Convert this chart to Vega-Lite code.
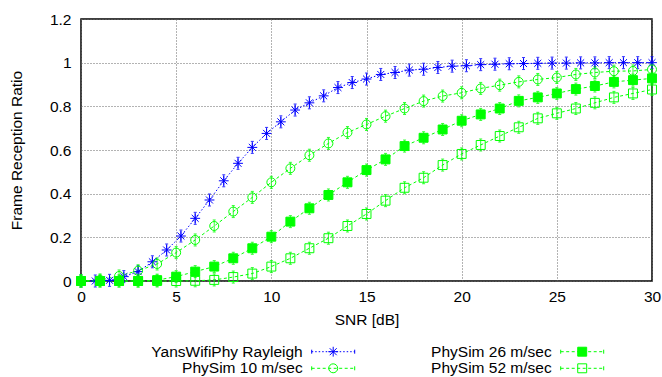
{
  "$schema": "https://vega.github.io/schema/vega-lite/v6.json",
  "autosize": {"type": "pad"},
  "padding": {"left": 8, "top": 11, "right": 0, "bottom": 0},
  "bounds": "flush",
  "spacing": 62,
  "config": {
    "font": "Liberation Sans",
    "view": {"stroke": "#000000", "strokeWidth": 1.5}
  },
  "resolve": {"scale": {"x": "independent", "y": "independent"}},
  "datasets": {
    "curves": [
      {"s": "YansWifiPhy Rayleigh", "x": 0, "y": 0},
      {"s": "YansWifiPhy Rayleigh", "x": 0.75, "y": 0},
      {"s": "YansWifiPhy Rayleigh", "x": 1.5, "y": 0.003},
      {"s": "YansWifiPhy Rayleigh", "x": 2.25, "y": 0.02},
      {"s": "YansWifiPhy Rayleigh", "x": 3, "y": 0.043},
      {"s": "YansWifiPhy Rayleigh", "x": 3.75, "y": 0.088},
      {"s": "YansWifiPhy Rayleigh", "x": 4.5, "y": 0.142},
      {"s": "YansWifiPhy Rayleigh", "x": 5.25, "y": 0.206},
      {"s": "YansWifiPhy Rayleigh", "x": 6, "y": 0.287},
      {"s": "YansWifiPhy Rayleigh", "x": 6.75, "y": 0.371},
      {"s": "YansWifiPhy Rayleigh", "x": 7.5, "y": 0.459},
      {"s": "YansWifiPhy Rayleigh", "x": 8.25, "y": 0.539},
      {"s": "YansWifiPhy Rayleigh", "x": 9, "y": 0.612},
      {"s": "YansWifiPhy Rayleigh", "x": 9.75, "y": 0.676},
      {"s": "YansWifiPhy Rayleigh", "x": 10.5, "y": 0.729},
      {"s": "YansWifiPhy Rayleigh", "x": 11.25, "y": 0.783},
      {"s": "YansWifiPhy Rayleigh", "x": 12, "y": 0.816},
      {"s": "YansWifiPhy Rayleigh", "x": 12.75, "y": 0.848},
      {"s": "YansWifiPhy Rayleigh", "x": 13.5, "y": 0.886},
      {"s": "YansWifiPhy Rayleigh", "x": 14.25, "y": 0.909},
      {"s": "YansWifiPhy Rayleigh", "x": 15, "y": 0.925},
      {"s": "YansWifiPhy Rayleigh", "x": 15.75, "y": 0.946},
      {"s": "YansWifiPhy Rayleigh", "x": 16.5, "y": 0.955},
      {"s": "YansWifiPhy Rayleigh", "x": 17.25, "y": 0.966},
      {"s": "YansWifiPhy Rayleigh", "x": 18, "y": 0.97},
      {"s": "YansWifiPhy Rayleigh", "x": 18.75, "y": 0.978},
      {"s": "YansWifiPhy Rayleigh", "x": 19.5, "y": 0.984},
      {"s": "YansWifiPhy Rayleigh", "x": 20.25, "y": 0.986},
      {"s": "YansWifiPhy Rayleigh", "x": 21, "y": 0.991},
      {"s": "YansWifiPhy Rayleigh", "x": 21.75, "y": 0.993},
      {"s": "YansWifiPhy Rayleigh", "x": 22.5, "y": 0.995},
      {"s": "YansWifiPhy Rayleigh", "x": 23.25, "y": 0.996},
      {"s": "YansWifiPhy Rayleigh", "x": 24, "y": 0.997},
      {"s": "YansWifiPhy Rayleigh", "x": 24.75, "y": 0.998},
      {"s": "YansWifiPhy Rayleigh", "x": 25.5, "y": 0.998},
      {"s": "YansWifiPhy Rayleigh", "x": 26.25, "y": 0.999},
      {"s": "YansWifiPhy Rayleigh", "x": 27, "y": 0.999},
      {"s": "YansWifiPhy Rayleigh", "x": 27.75, "y": 1},
      {"s": "YansWifiPhy Rayleigh", "x": 28.5, "y": 1},
      {"s": "YansWifiPhy Rayleigh", "x": 29.25, "y": 1},
      {"s": "YansWifiPhy Rayleigh", "x": 30, "y": 1},
      {"s": "PhySim 10 m/sec", "x": 0, "y": 0},
      {"s": "PhySim 10 m/sec", "x": 1, "y": 0.005},
      {"s": "PhySim 10 m/sec", "x": 2, "y": 0.023},
      {"s": "PhySim 10 m/sec", "x": 3, "y": 0.047},
      {"s": "PhySim 10 m/sec", "x": 4, "y": 0.078},
      {"s": "PhySim 10 m/sec", "x": 5, "y": 0.13},
      {"s": "PhySim 10 m/sec", "x": 6, "y": 0.188},
      {"s": "PhySim 10 m/sec", "x": 7, "y": 0.252},
      {"s": "PhySim 10 m/sec", "x": 8, "y": 0.318},
      {"s": "PhySim 10 m/sec", "x": 9, "y": 0.383},
      {"s": "PhySim 10 m/sec", "x": 10, "y": 0.452},
      {"s": "PhySim 10 m/sec", "x": 11, "y": 0.516},
      {"s": "PhySim 10 m/sec", "x": 12, "y": 0.576},
      {"s": "PhySim 10 m/sec", "x": 13, "y": 0.63},
      {"s": "PhySim 10 m/sec", "x": 14, "y": 0.68},
      {"s": "PhySim 10 m/sec", "x": 15, "y": 0.717},
      {"s": "PhySim 10 m/sec", "x": 16, "y": 0.755},
      {"s": "PhySim 10 m/sec", "x": 17, "y": 0.79},
      {"s": "PhySim 10 m/sec", "x": 18, "y": 0.824},
      {"s": "PhySim 10 m/sec", "x": 19, "y": 0.847},
      {"s": "PhySim 10 m/sec", "x": 20, "y": 0.862},
      {"s": "PhySim 10 m/sec", "x": 21, "y": 0.882},
      {"s": "PhySim 10 m/sec", "x": 22, "y": 0.897},
      {"s": "PhySim 10 m/sec", "x": 23, "y": 0.912},
      {"s": "PhySim 10 m/sec", "x": 24, "y": 0.923},
      {"s": "PhySim 10 m/sec", "x": 25, "y": 0.932},
      {"s": "PhySim 10 m/sec", "x": 26, "y": 0.946},
      {"s": "PhySim 10 m/sec", "x": 27, "y": 0.955},
      {"s": "PhySim 10 m/sec", "x": 28, "y": 0.961},
      {"s": "PhySim 10 m/sec", "x": 29, "y": 0.962},
      {"s": "PhySim 10 m/sec", "x": 30, "y": 0.969},
      {"s": "PhySim 26 m/sec", "x": 0, "y": 0},
      {"s": "PhySim 26 m/sec", "x": 1, "y": 0},
      {"s": "PhySim 26 m/sec", "x": 2, "y": 0},
      {"s": "PhySim 26 m/sec", "x": 3, "y": 0},
      {"s": "PhySim 26 m/sec", "x": 4, "y": 0.004},
      {"s": "PhySim 26 m/sec", "x": 5, "y": 0.02},
      {"s": "PhySim 26 m/sec", "x": 6, "y": 0.043},
      {"s": "PhySim 26 m/sec", "x": 7, "y": 0.066},
      {"s": "PhySim 26 m/sec", "x": 8, "y": 0.104},
      {"s": "PhySim 26 m/sec", "x": 9, "y": 0.15},
      {"s": "PhySim 26 m/sec", "x": 10, "y": 0.203},
      {"s": "PhySim 26 m/sec", "x": 11, "y": 0.272},
      {"s": "PhySim 26 m/sec", "x": 12, "y": 0.333},
      {"s": "PhySim 26 m/sec", "x": 13, "y": 0.394},
      {"s": "PhySim 26 m/sec", "x": 14, "y": 0.452},
      {"s": "PhySim 26 m/sec", "x": 15, "y": 0.508},
      {"s": "PhySim 26 m/sec", "x": 16, "y": 0.557},
      {"s": "PhySim 26 m/sec", "x": 17, "y": 0.618},
      {"s": "PhySim 26 m/sec", "x": 18, "y": 0.656},
      {"s": "PhySim 26 m/sec", "x": 19, "y": 0.694},
      {"s": "PhySim 26 m/sec", "x": 20, "y": 0.734},
      {"s": "PhySim 26 m/sec", "x": 21, "y": 0.763},
      {"s": "PhySim 26 m/sec", "x": 22, "y": 0.79},
      {"s": "PhySim 26 m/sec", "x": 23, "y": 0.825},
      {"s": "PhySim 26 m/sec", "x": 24, "y": 0.841},
      {"s": "PhySim 26 m/sec", "x": 25, "y": 0.859},
      {"s": "PhySim 26 m/sec", "x": 26, "y": 0.879},
      {"s": "PhySim 26 m/sec", "x": 27, "y": 0.893},
      {"s": "PhySim 26 m/sec", "x": 28, "y": 0.912},
      {"s": "PhySim 26 m/sec", "x": 29, "y": 0.92},
      {"s": "PhySim 26 m/sec", "x": 30, "y": 0.928},
      {"s": "PhySim 52 m/sec", "x": 0, "y": 0},
      {"s": "PhySim 52 m/sec", "x": 1, "y": 0},
      {"s": "PhySim 52 m/sec", "x": 2, "y": 0},
      {"s": "PhySim 52 m/sec", "x": 3, "y": 0},
      {"s": "PhySim 52 m/sec", "x": 4, "y": 0},
      {"s": "PhySim 52 m/sec", "x": 5, "y": 0},
      {"s": "PhySim 52 m/sec", "x": 6, "y": 0.001},
      {"s": "PhySim 52 m/sec", "x": 7, "y": 0.005},
      {"s": "PhySim 52 m/sec", "x": 8, "y": 0.018},
      {"s": "PhySim 52 m/sec", "x": 9, "y": 0.034},
      {"s": "PhySim 52 m/sec", "x": 10, "y": 0.066},
      {"s": "PhySim 52 m/sec", "x": 11, "y": 0.104},
      {"s": "PhySim 52 m/sec", "x": 12, "y": 0.15},
      {"s": "PhySim 52 m/sec", "x": 13, "y": 0.196},
      {"s": "PhySim 52 m/sec", "x": 14, "y": 0.252},
      {"s": "PhySim 52 m/sec", "x": 15, "y": 0.307},
      {"s": "PhySim 52 m/sec", "x": 16, "y": 0.368},
      {"s": "PhySim 52 m/sec", "x": 17, "y": 0.427},
      {"s": "PhySim 52 m/sec", "x": 18, "y": 0.473},
      {"s": "PhySim 52 m/sec", "x": 19, "y": 0.531},
      {"s": "PhySim 52 m/sec", "x": 20, "y": 0.582},
      {"s": "PhySim 52 m/sec", "x": 21, "y": 0.623},
      {"s": "PhySim 52 m/sec", "x": 22, "y": 0.664},
      {"s": "PhySim 52 m/sec", "x": 23, "y": 0.704},
      {"s": "PhySim 52 m/sec", "x": 24, "y": 0.745},
      {"s": "PhySim 52 m/sec", "x": 25, "y": 0.768},
      {"s": "PhySim 52 m/sec", "x": 26, "y": 0.79},
      {"s": "PhySim 52 m/sec", "x": 27, "y": 0.816},
      {"s": "PhySim 52 m/sec", "x": 28, "y": 0.841},
      {"s": "PhySim 52 m/sec", "x": 29, "y": 0.859},
      {"s": "PhySim 52 m/sec", "x": 30, "y": 0.877}
    ],
    "legendRows": [
      {"s": "YansWifiPhy Rayleigh", "c": 0, "r": 0},
      {"s": "PhySim 10 m/sec", "c": 0, "r": 1},
      {"s": "PhySim 26 m/sec", "c": 1, "r": 0},
      {"s": "PhySim 52 m/sec", "c": 1, "r": 1}
    ]
  },
  "vconcat": [
    {
      "width": 571,
      "height": 262,
      "data": {"name": "curves"},
      "encoding": {
        "x": {
          "field": "x",
          "type": "quantitative",
          "title": "SNR [dB]",
          "scale": {"domain": [0, 30], "nice": false},
          "axis": {
            "values": [0, 5, 10, 15, 20, 25, 30],
            "labelFlush": false,
            "domain": false, "ticks": false, "grid": true,
            "gridColor": "#666666", "gridDash": [1, 2], "gridWidth": 1,
            "labelFont": "Liberation Sans", "labelFontSize": 15.5, "labelColor": "#000000",
            "titleFont": "Liberation Sans", "titleFontSize": 15.5, "titleFontWeight": "normal", "titleColor": "#000000",
            "labelPadding": 8, "titlePadding": 8
          }
        },
        "y": {
          "field": "y",
          "type": "quantitative",
          "title": "Frame Reception Ratio",
          "scale": {"domain": [0, 1.2], "nice": false},
          "axis": {
            "values": [0, 0.2, 0.4, 0.6, 0.8, 1, 1.2],
            "format": ".1~f",
            "labelFlush": false,
            "domain": false, "ticks": false, "grid": true,
            "gridColor": "#666666", "gridDash": [1, 2], "gridWidth": 1,
            "labelFont": "Liberation Sans", "labelFontSize": 15.5, "labelColor": "#000000",
            "titleFont": "Liberation Sans", "titleFontSize": 15.5, "titleFontWeight": "normal", "titleColor": "#000000",
            "labelPadding": 10, "titlePadding": 25
          }
        }
      },
      "layer": [
        {
          "mark": {"type": "line", "strokeWidth": 1},
          "encoding": {
            "color": {
              "field": "s",
              "type": "nominal",
              "scale": {
                "domain": ["YansWifiPhy Rayleigh", "PhySim 26 m/sec", "PhySim 10 m/sec", "PhySim 52 m/sec"],
                "range": ["#0000ff", "#00ff00", "#00ff00", "#00ff00"]
              },
              "legend": null
            },
            "strokeDash": {
              "field": "s",
              "type": "nominal",
              "scale": {
                "domain": ["YansWifiPhy Rayleigh", "PhySim 26 m/sec", "PhySim 10 m/sec", "PhySim 52 m/sec"],
                "range": [[1.5, 2], [3, 2.5], [3, 2.5], [3, 2.5]]
              },
              "legend": null
            }
          }
        },
        {
          "mark": {"type": "point", "filled": false, "strokeWidth": 1, "size": 144, "opacity": 0.8, "shape": "M0,-1V1M-0.25,-1H0.25M-0.25,1H0.25"},
          "encoding": {"color": {"field": "s", "type": "nominal", "legend": null}}
        },
        {
          "mark": {"type": "point", "filled": false, "strokeWidth": 1, "size": 80, "opacity": 1},
          "encoding": {
            "color": {"field": "s", "type": "nominal", "legend": null},
            "shape": {
              "field": "s",
              "type": "nominal",
              "scale": {
                "domain": ["YansWifiPhy Rayleigh", "PhySim 26 m/sec", "PhySim 10 m/sec", "PhySim 52 m/sec"],
                "range": ["M-1.1,0H1.1M0,-1.1V1.1M-0.78,-0.78L0.78,0.78M-0.78,0.78L0.78,-0.78", "square", "circle", "square"]
              },
              "legend": null
            }
          }
        },
        {
          "transform": [{"filter": "datum.s === 'PhySim 26 m/sec'"}],
          "mark": {"type": "point", "shape": "square", "filled": true, "size": 80, "opacity": 1, "color": "#00ff00"},
          "encoding": {}
        }
      ]
    },
    {
      "width": 571,
      "height": 34,
      "view": {"stroke": null},
      "data": {"name": "legendRows"},
      "encoding": {
        "x": {"field": "c", "type": "quantitative", "axis": null, "scale": {"domain": [0, 1], "range": [221.7, 470.7]}},
        "y": {"field": "r", "type": "quantitative", "axis": null, "scale": {"domain": [0, 1], "range": [8.7, 25.3]}}
      },
      "layer": [
        {
          "mark": {"type": "rule", "xOffset": 9, "x2Offset": 52, "strokeWidth": 1},
          "encoding": {
            "x2": {"field": "c"},
            "color": {
              "field": "s",
              "type": "nominal",
              "scale": {
                "domain": ["YansWifiPhy Rayleigh", "PhySim 26 m/sec", "PhySim 10 m/sec", "PhySim 52 m/sec"],
                "range": ["#0000ff", "#00ff00", "#00ff00", "#00ff00"]
              },
              "legend": null
            },
            "strokeDash": {
              "field": "s",
              "type": "nominal",
              "scale": {
                "domain": ["YansWifiPhy Rayleigh", "PhySim 26 m/sec", "PhySim 10 m/sec", "PhySim 52 m/sec"],
                "range": [[1.5, 2], [3, 2.5], [3, 2.5], [3, 2.5]]
              },
              "legend": null
            }
          }
        },
        {
          "mark": {"type": "point", "filled": false, "strokeWidth": 1, "opacity": 1, "xOffset": 30.5, "size": 1849, "shape": "M-1,-0.093V0.093M1,-0.093V0.093"},
          "encoding": {"color": {"field": "s", "type": "nominal", "legend": null}}
        },
        {
          "mark": {"type": "point", "filled": false, "strokeWidth": 1, "size": 80, "opacity": 1, "xOffset": 30.5},
          "encoding": {
            "color": {"field": "s", "type": "nominal", "legend": null},
            "shape": {
              "field": "s",
              "type": "nominal",
              "scale": {
                "domain": ["YansWifiPhy Rayleigh", "PhySim 26 m/sec", "PhySim 10 m/sec", "PhySim 52 m/sec"],
                "range": ["M-1.1,0H1.1M0,-1.1V1.1M-0.78,-0.78L0.78,0.78M-0.78,0.78L0.78,-0.78", "square", "circle", "square"]
              },
              "legend": null
            }
          }
        },
        {
          "transform": [{"filter": "datum.s === 'PhySim 26 m/sec'"}],
          "mark": {"type": "point", "shape": "square", "filled": true, "size": 80, "opacity": 1, "color": "#00ff00", "xOffset": 30.5},
          "encoding": {}
        },
        {
          "mark": {"type": "text", "align": "right", "baseline": "middle", "font": "Liberation Sans", "fontSize": 15.5, "color": "#000000"},
          "encoding": {"text": {"field": "s", "type": "nominal"}}
        }
      ]
    }
  ]
}
